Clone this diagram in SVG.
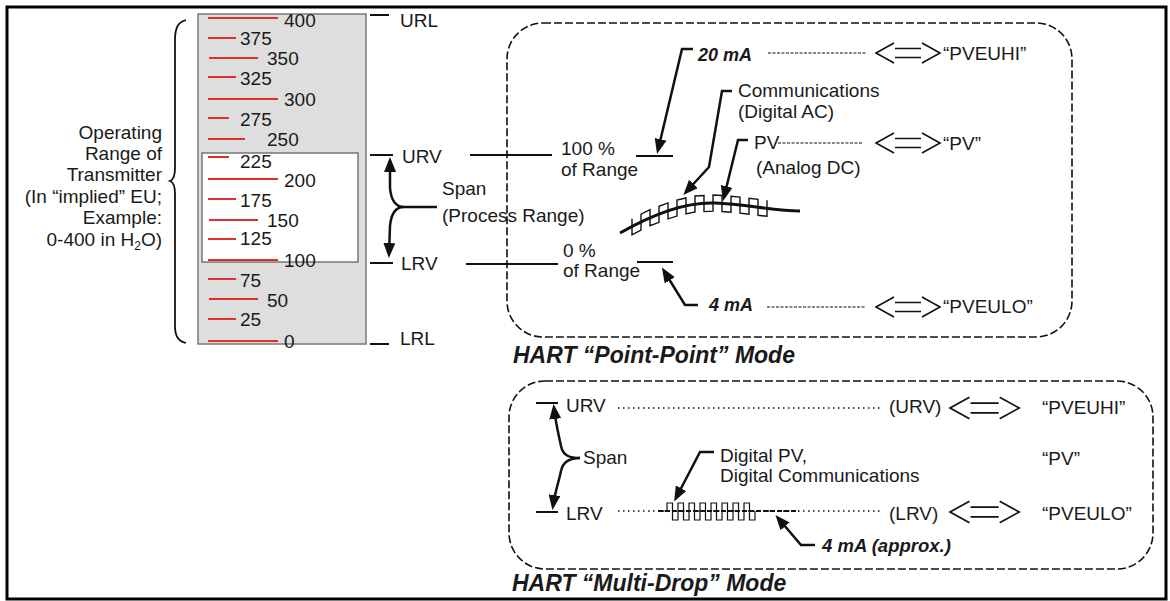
<svg xmlns="http://www.w3.org/2000/svg" width="1170" height="601" viewBox="0 0 1170 601">
<style>
.t{font-family:"Liberation Sans",Arial,Helvetica,sans-serif;font-size:19px;fill:#1a1a1a}
.b{font-weight:bold;font-style:italic;font-size:18px}
.h{font-weight:bold;font-style:italic;font-size:23px}
.e{text-anchor:end}
.tick{stroke:#e0302a;stroke-width:2}
.ln{stroke:#111;stroke-width:2;fill:none}
.arr{stroke:#111;stroke-width:2.5;fill:none;marker-end:url(#ah)}
.hook{stroke:#111;stroke-width:2.5;fill:none}
.dash{stroke:#111;stroke-width:1.2;stroke-dasharray:3 1.5}
.dot{stroke:#111;stroke-width:1.5;stroke-dasharray:1.5 3.5}
.box{fill:none;stroke:#111;stroke-width:1.6;stroke-dasharray:8 3}
.dbl{fill:none;stroke:#111;stroke-width:1.6}
</style>
<defs>
<marker id="ah" markerUnits="userSpaceOnUse" markerWidth="15" markerHeight="12" viewBox="0 0 15 12" refX="11" refY="6" orient="auto">
<path d="M0,0 L15,6 L0,12 z" fill="#111"/>
</marker>
<g id="dblA" class="dbl">
<path d="M18,-10 L0,0 L18,10"/>
<path d="M46,-10 L64,0 L46,10"/>
<path d="M19,-4.5 H45 M19,4.5 H45"/>
</g>
</defs>
<rect x="7" y="7" width="1159" height="592" fill="#fff" stroke="#000" stroke-width="3"/>

<g id="scale">
<rect x="198" y="14" width="168" height="330" fill="#dedede" stroke="#7a7a7a" stroke-width="1.5"/>
<rect x="202" y="153" width="156" height="109" fill="#fff" stroke="#777" stroke-width="1.5"/>
<g class="tick">
<line x1="208" y1="18" x2="278" y2="18"/>
<line x1="208" y1="38" x2="236" y2="38"/>
<line x1="209" y1="58" x2="258" y2="58"/>
<line x1="208" y1="77" x2="236" y2="77"/>
<line x1="208" y1="99" x2="278" y2="99"/>
<line x1="208" y1="118" x2="229" y2="118"/>
<line x1="208" y1="139" x2="245" y2="139"/>
<line x1="208" y1="157" x2="229" y2="157"/>
<line x1="208" y1="179" x2="278" y2="179"/>
<line x1="208" y1="199" x2="236" y2="199"/>
<line x1="209" y1="220" x2="258" y2="220"/>
<line x1="208" y1="239" x2="236" y2="239"/>
<line x1="208" y1="260" x2="278" y2="260"/>
<line x1="208" y1="279" x2="236" y2="279"/>
<line x1="209" y1="299" x2="258" y2="299"/>
<line x1="208" y1="319" x2="236" y2="319"/>
<line x1="208" y1="341" x2="278" y2="341"/>
</g>
<g class="t">
<text x="284" y="27">400</text>
<text x="240" y="45">375</text>
<text x="267" y="65">350</text>
<text x="240" y="85">325</text>
<text x="284" y="106">300</text>
<text x="240" y="126">275</text>
<text x="267" y="146">250</text>
<text x="240" y="168">225</text>
<text x="284" y="187">200</text>
<text x="240" y="207">175</text>
<text x="267" y="227">150</text>
<text x="240" y="245">125</text>
<text x="284" y="267">100</text>
<text x="240" y="287">75</text>
<text x="267" y="307">50</text>
<text x="240" y="326">25</text>
<text x="284" y="348">0</text>
</g>
</g>

<g id="operating-range">
<path d="M186,20 C178,22 175,28 175,40 L175,168 C175,176 173,180 170,181 C173,182 175,186 175,194 L175,326 C175,336 178,341 186,343" fill="none" stroke="#111" stroke-width="1.8"/>
<g class="t e">
<text x="162" y="139">Operating</text>
<text x="162" y="160">Range of</text>
<text x="162" y="181">Transmitter</text>
<text x="162" y="203">(In “implied” EU;</text>
<text x="162" y="224">Example:</text>
<text x="162" y="246">0-400 in H<tspan font-size="12" dy="4">2</tspan><tspan dy="-4">O)</tspan></text>
</g>
</g>

<g id="range-markers">
<line class="ln" x1="370" y1="15" x2="389" y2="15"/>
<line class="ln" x1="370" y1="155" x2="393" y2="155"/>
<line class="ln" x1="370" y1="263" x2="393" y2="263"/>
<line class="ln" x1="370" y1="344" x2="389" y2="344"/>
<g class="t">
<text x="400" y="27">URL</text>
<text x="402" y="163">URV</text>
<text x="401" y="270">LRV</text>
<text x="400" y="345">LRL</text>
</g>
</g>

<g id="span">
<text class="t" x="442" y="195">Span</text>
<text class="t" x="442" y="222">(Process Range)</text>
</g>

<g id="point-point">
<rect class="box" x="507" y="23" width="565" height="314" rx="36"/>
<g class="t">
<text x="561" y="155">100 %</text>
<text x="561" y="176">of Range</text>
<text x="563" y="257">0 %</text>
<text x="563" y="277">of Range</text>
<text x="738" y="97">Communications</text>
<text x="738" y="118">(Digital AC)</text>
<text x="754" y="149">PV</text>
<text x="756" y="174">(Analog DC)</text>
<text x="943" y="60">“PVEUHI”</text>
<text x="943" y="150">“PV”</text>
<text x="943" y="313">“PVEULO”</text>
</g>
<text class="t b" x="698" y="61">20 mA</text>
<text class="t b" x="709" y="311">4 mA</text>
<text class="t h" x="513" y="363">HART “Point-Point” Mode</text>
<path d="M620,233 C660,210 690,202 715,203 C745,204 775,211 800,211" fill="none" stroke="#111" stroke-width="3"/>
<path d="M632,218.8 L632,234.8 L641,230.1 L641,214.1 L650,209.7 L650,225.7 L659,222.3 L659,206.3 L668,202.9 L668,218.9 L677,216.1 L677,200.1 L686,198 L686,214 L695,212 L695,196 L704,195.6 L704,211.6 L713,211.1 L713,195.1 L722,195.5 L722,211.5 L731,212.2 L731,196.2 L740,197.1 L740,213.1 L749,214.2 L749,198.2 L758,199.3 L758,215.3 L767,216.3 L767,200.3" fill="none" stroke="#111" stroke-width="1.4"/>
<use href="#dblA" x="876" y="53"/>
<use href="#dblA" x="876" y="143"/>
<use href="#dblA" x="876" y="307"/>
</g>

<g id="multi-drop">
<rect class="box" x="509" y="381" width="644" height="188" rx="36"/>
<line class="ln" x1="536" y1="403" x2="558" y2="403"/>
<line class="ln" x1="536" y1="512" x2="558" y2="512"/>
<g class="t">
<text x="566" y="412">URV</text>
<text x="566" y="520">LRV</text>
<text x="583" y="464">Span</text>
<text x="720" y="462">Digital PV,</text>
<text x="720" y="482">Digital Communications</text>
<text x="889" y="413">(URV)</text>
<text x="889" y="520">(LRV)</text>
<text x="1042" y="414">“PVEUHI”</text>
<text x="1042" y="465">“PV”</text>
<text x="1042" y="520">“PVEULO”</text>
</g>
<text class="t b" x="822" y="552" style="font-size:18.5px">4 mA (approx.)</text>
<text class="t h" x="512" y="591">HART “Multi-Drop” Mode</text>
<path d="M667,511 V503 H672.5 V520 H678 V503 H683.5 V520 H689 V503 H694.5 V520 H700 V503 H705.5 V520 H711 V503 H716.5 V520 H722 V503 H727.5 V520 H733 V503 H738.5 V520 H744 V503 H749.5 V520 H755 V511" fill="none" stroke="#111" stroke-width="1.2"/>
<use href="#dblA" transform="translate(950,408) scale(1.08)"/>
<use href="#dblA" transform="translate(950,512) scale(1.08)"/>
</g>

<g id="connectors">
<line class="ln" x1="470" y1="155" x2="552" y2="155"/>
<line class="ln" x1="636" y1="156" x2="673" y2="156"/>
<line class="ln" x1="466" y1="264" x2="558" y2="264"/>
<line class="ln" x1="637" y1="262" x2="673" y2="262"/>
<path class="hook" d="M437,207 L404,207"/>
<path class="arr" d="M404,207 C395,207 391,199 390,188 L390,161"/>
<path class="arr" d="M404,207 C395,207 391,215 390,226 L389,254"/>
<path class="arr" d="M693,49 L682,49 L658,150"/>
<path class="arr" d="M732,91 L722,91 L709,167 L686,192"/>
<path class="arr" d="M748,140 L738,140 L724,197"/>
<path class="arr" d="M698,305 L685,305 L664,271"/>
<line class="dash" x1="768" y1="53" x2="866" y2="53"/>
<line class="dash" x1="778" y1="143" x2="862" y2="143"/>
<line class="dash" x1="767" y1="307" x2="865" y2="307"/>
<path class="hook" d="M580,458 C570,458 563,456 561,446"/>
<path class="arr" d="M561,446 C559,436 556,425 554,408"/>
<path class="hook" d="M580,458 C570,458 563,461 561,471"/>
<path class="arr" d="M561,471 C559,481 555,492 553,506"/>
<path class="arr" d="M714,452 L700,452 L676,498"/>
<path class="arr" d="M815,545 L801,545 L778,518"/>
<line class="dot" x1="618" y1="408" x2="882" y2="408"/>
<line class="dot" x1="618" y1="511" x2="882" y2="511"/>
<line x1="658" y1="511" x2="799" y2="511" stroke="#111" stroke-width="2" stroke-dasharray="5 2"/>
</g>
</svg>
